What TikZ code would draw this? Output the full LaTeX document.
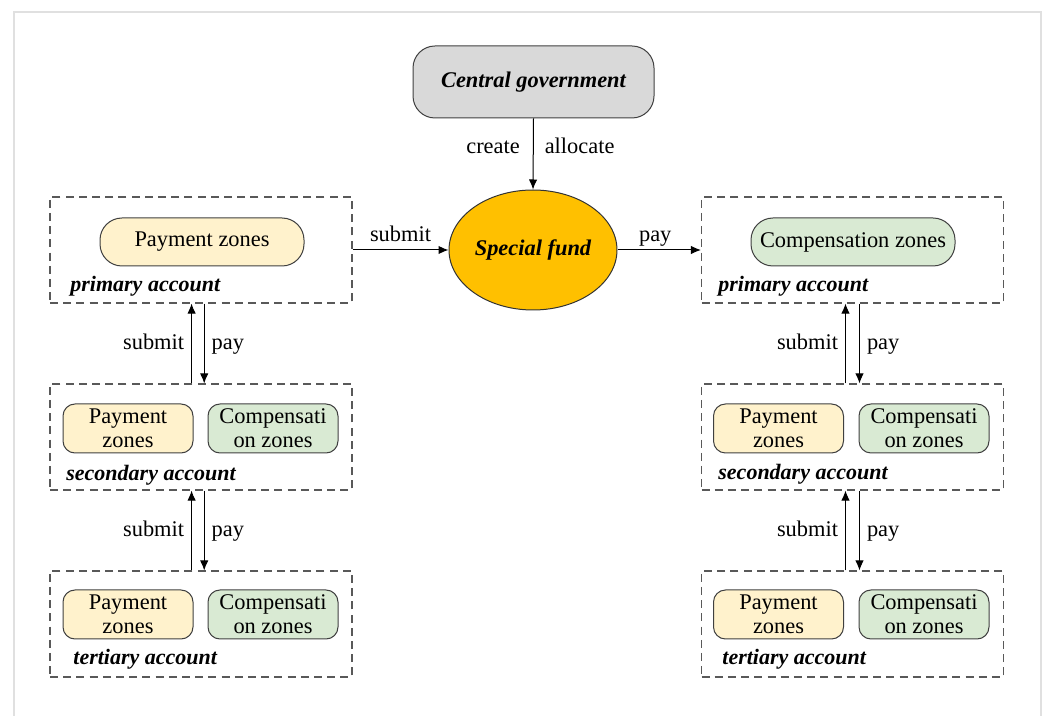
\documentclass[tikz,border=0pt]{standalone}
\usepackage{fontspec}
\setmainfont{Liberation Serif}
\usetikzlibrary{arrows.meta, positioning, calc, shapes.geometric}

\definecolor{govgray}{HTML}{D9D9D9}
\definecolor{fundgold}{HTML}{FFC000}
\definecolor{payyellow}{HTML}{FFF2CC}
\definecolor{compgreen}{HTML}{D9EAD3}

\begin{document}
\begin{tikzpicture}[
  x=0.5pt, y=-0.5pt,
  every node/.style = {align=center, font=\fontsize{11.2}{12}\selectfont, inner sep=0pt},
  arrow/.style = {-{Latex[length=5pt, width=4.2pt]}, line width=0.5pt},
  account/.style = {draw=black!65, dash pattern=on 4pt off 2.6pt, line width=0.55pt,
                    minimum width=151pt, minimum height=53pt},
  acclabel/.style = {anchor=west, font=\fontsize{11}{12}\selectfont\bfseries\itshape},
  govbox/.style = {draw=black!75, fill=govgray, rounded corners=11pt, line width=0.5pt,
                   minimum width=120.5pt, minimum height=36pt,
                   font=\fontsize{11.2}{12}\selectfont\bfseries\itshape},
  fundell/.style = {ellipse, draw=black!80, fill=fundgold, line width=0.5pt,
                    minimum width=84pt, minimum height=60pt,
                    font=\fontsize{11.2}{12}\selectfont\bfseries\itshape},
  bigzone/.style = {draw=black!75, rounded corners=11pt, line width=0.5pt,
                    minimum width=102pt, minimum height=24pt},
  smallzone/.style = {draw=black!75, rounded corners=6pt, line width=0.5pt,
                      minimum width=65pt, minimum height=24.5pt},
  payzone/.style = {fill=payyellow},
  compzone/.style = {fill=compgreen},
  flowlabel/.style = {inner sep=3.5pt, text height=1.6ex, text depth=0.4ex}
]
\useasboundingbox (0,0) rectangle (1045,716);

% faint frame
\draw[black!12, line width=0.6pt] (14,716) -- (14,12) -- (1041,12) -- (1041,716);

% Top: government and fund
\node[govbox] (gov) at (533.5,82) {Central government};
\node[fundell] (fund) at (533,250) {Special fund};

% Left column: payment side
\node[account] (priL) at (201,250) {};
\node[account] (secL) at (201,437) {};
\node[account] (terL) at (201,624) {};

\node[bigzone, payzone] (payP) at (202,242) {Payment zones};
\node[smallzone, payzone] (paySL) at (128,428.5) {Payment\\zones};
\node[smallzone, compzone] (compSL) at (273,428.5) {Compensati\\on zones};
\node[smallzone, payzone] (payTL) at (128,614.5) {Payment\\zones};
\node[smallzone, compzone] (compTL) at (273,614.5) {Compensati\\on zones};

\node[acclabel] (accPL) at (70,286) {primary account};
\node[acclabel] (accSL) at (66,475) {secondary account};
\node[acclabel] (accTL) at (73,659) {tertiary account};

% Right column: compensation side
\node[account] (priR) at (852.5,250) {};
\node[account] (secR) at (852.5,437) {};
\node[account] (terR) at (852.5,624) {};

\node[bigzone, compzone] (compP) at (853,242) {Compensation zones};
\node[smallzone, payzone] (paySR) at (778.5,428.5) {Payment\\zones};
\node[smallzone, compzone] (compSR) at (924,428.5) {Compensati\\on zones};
\node[smallzone, payzone] (payTR) at (778.5,614.5) {Payment\\zones};
\node[smallzone, compzone] (compTR) at (924,614.5) {Compensati\\on zones};

\node[acclabel] (accPR) at (718,286) {primary account};
\node[acclabel] (accSR) at (718,474) {secondary account};
\node[acclabel] (accTR) at (722,659) {tertiary account};

% === ARROWS ===
\draw[arrow] (gov.south) -- node[pos=0.42, left, flowlabel, xshift=-3pt] {create}
                              node[pos=0.42, right, flowlabel, xshift=2pt] {allocate} (fund.north);
\draw[arrow] (priL.east) -- node[above, flowlabel, inner sep=2pt] {submit} (fund.west);
\draw[arrow] (fund.east) -- node[above, flowlabel, inner sep=2pt, xshift=-2pt] {pay} (priR.west);

% left chain
\draw[arrow] ([xshift=-4.7pt]secL.north) -- node[left, flowlabel] {submit} ([xshift=-4.7pt]priL.south);
\draw[arrow] ([xshift=1.6pt]priL.south) -- node[right, flowlabel] {pay} ([xshift=1.6pt]secL.north);
\draw[arrow] ([xshift=-4.7pt]terL.north) -- node[left, flowlabel] {submit} ([xshift=-4.7pt]secL.south);
\draw[arrow] ([xshift=1.6pt]secL.south) -- node[right, flowlabel] {pay} ([xshift=1.6pt]terL.north);

% right chain
\draw[arrow] ([xshift=-3.5pt]secR.north) -- node[left, flowlabel] {submit} ([xshift=-3.5pt]priR.south);
\draw[arrow] ([xshift=3.5pt]priR.south) -- node[right, flowlabel] {pay} ([xshift=3.5pt]secR.north);
\draw[arrow] ([xshift=-3.5pt]terR.north) -- node[left, flowlabel] {submit} ([xshift=-3.5pt]secR.south);
\draw[arrow] ([xshift=3.5pt]secR.south) -- node[right, flowlabel] {pay} ([xshift=3.5pt]terR.north);

\end{tikzpicture}
\end{document}
